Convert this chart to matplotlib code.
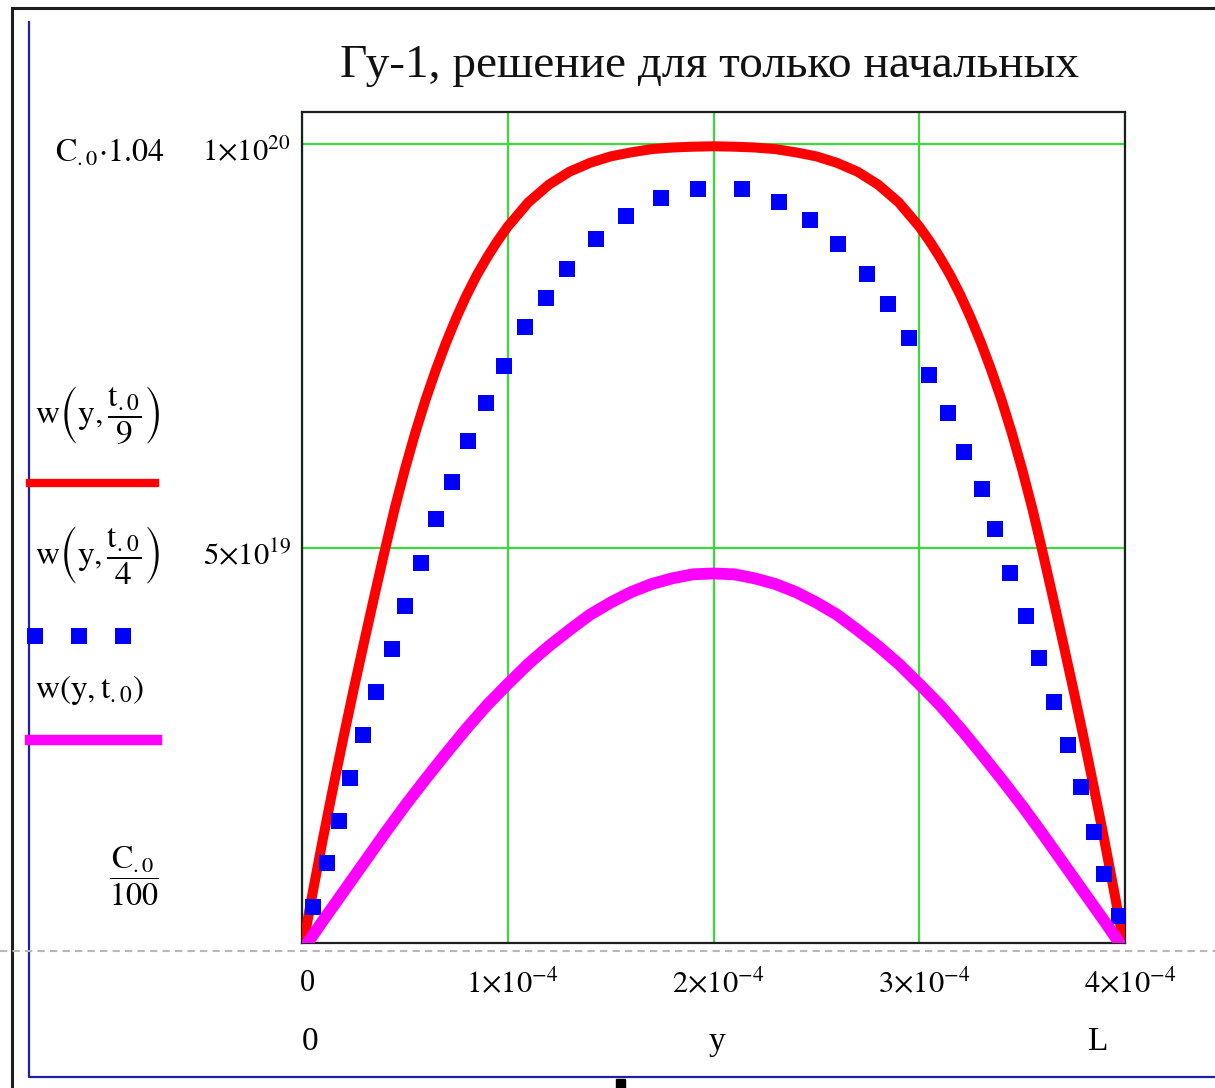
import matplotlib.pyplot as plt
from matplotlib.patches import Rectangle
from matplotlib.transforms import ScaledTranslation

plt.rcParams['font.family'] = ['Liberation Serif', 'DejaVu Serif']
plt.rcParams['mathtext.fontset'] = 'stix'

W, H = 1215, 1088          # размер листа, пиксели
C0 = 1e20                  # начальная концентрация
L = 4e-4                   # толщина слоя
YS, WS = 1e-4, 1e19        # масштабы для таблиц ниже

# w(y, t0/9): y в 1e-4, w в 1e19
y_t9 = [0.0, 0.05, 0.10, 0.15, 0.20, 0.25, 0.30, 0.35, 0.40, 0.45,
        0.50, 0.55, 0.60, 0.65, 0.70, 0.75, 0.80, 0.85, 0.90, 0.95,
        1.00, 1.10, 1.20, 1.30, 1.40, 1.50, 1.60, 1.70, 1.80, 1.90,
        2.00, 2.10, 2.20, 2.30, 2.40, 2.50, 2.60, 2.70, 2.80, 2.90,
        3.00, 3.05, 3.10, 3.15, 3.20, 3.25, 3.30, 3.35, 3.40, 3.45,
        3.50, 3.55, 3.60, 3.65, 3.70, 3.75, 3.80, 3.85, 3.90, 3.95, 4.0]
w_t9 = [0.0, 0.70, 1.37, 2.01, 2.63, 3.23, 3.81, 4.38, 4.94, 5.48,
        5.97, 6.42, 6.83, 7.20, 7.54, 7.85, 8.13, 8.38, 8.60, 8.80,
        8.98, 9.28, 9.50, 9.66, 9.77, 9.85, 9.90, 9.94, 9.96, 9.97,
        9.975, 9.97, 9.96, 9.94, 9.90, 9.85, 9.77, 9.66, 9.50, 9.28,
        8.98, 8.80, 8.60, 8.38, 8.13, 7.85, 7.54, 7.20, 6.83, 6.42,
        5.97, 5.48, 4.94, 4.38, 3.81, 3.23, 2.63, 2.01, 1.37, 0.70, 0.0]

# w(y, t0/4) - точками
y_t4 = [0.054, 0.122, 0.180, 0.234, 0.297, 0.360, 0.438, 0.501, 0.579, 0.652,
        0.730, 0.808, 0.896, 0.983, 1.086, 1.188, 1.290, 1.427, 1.577, 1.743,
        1.923, 2.137, 2.317, 2.468, 2.605, 2.746, 2.848, 2.950, 3.048, 3.140,
        3.218, 3.306, 3.369, 3.442, 3.520, 3.583, 3.656, 3.724, 3.788, 3.851,
        3.900, 3.973]
w_t4 = [0.55, 1.09, 1.61, 2.15, 2.68, 3.21, 3.75, 4.28, 4.81, 5.36,
        5.81, 6.32, 6.79, 7.25, 7.73, 8.10, 8.45, 8.83, 9.11, 9.33,
        9.45, 9.45, 9.29, 9.06, 8.77, 8.39, 8.02, 7.60, 7.14, 6.67,
        6.18, 5.73, 5.23, 4.69, 4.15, 3.63, 3.09, 2.56, 2.03, 1.48,
        0.96, 0.43]

# w(y, t0)
y_t1 = [0.0, 0.1, 0.2, 0.3, 0.4, 0.5, 0.6, 0.7, 0.8, 0.9, 1.0, 1.1, 1.2, 1.3,
        1.4, 1.5, 1.6, 1.7, 1.8, 1.9, 2.0, 2.1, 2.2, 2.3, 2.4, 2.5, 2.6, 2.7,
        2.8, 2.9, 3.0, 3.1, 3.2, 3.3, 3.4, 3.5, 3.6, 3.7, 3.8, 3.9, 4.0]
w_t1 = [0.0, 0.37, 0.73, 1.09, 1.45, 1.80, 2.13, 2.45, 2.76, 3.05, 3.31, 3.56,
        3.78, 3.98, 4.17, 4.32, 4.45, 4.55, 4.62, 4.67, 4.68, 4.67, 4.62, 4.55,
        4.45, 4.32, 4.17, 3.98, 3.78, 3.56, 3.31, 3.05, 2.76, 2.45, 2.13, 1.80,
        1.45, 1.09, 0.73, 0.37, 0.0]

x_ticks = [0, 1e-4, 2e-4, 3e-4, 4e-4]
x_labels = ['0', r'$1{\times}10^{-4}$', r'$2{\times}10^{-4}$',
            r'$3{\times}10^{-4}$', r'$4{\times}10^{-4}$']
y_ticks = [5e19, 1e20]
y_labels = [r'$5{\times}10^{19}$', r'$1{\times}10^{20}$']

fig = plt.figure(figsize=(W / 100, H / 100), dpi=100)

# фон с рамками и подписями (координаты в пикселях)
bg = fig.add_axes([0, 0, 1, 1])
bg.set_xlim(0, W)
bg.set_ylim(H, 0)
bg.axis('off')
bg.plot([12, 12, W], [H, 8, 8], color='#1e1e1e', lw=2.2, solid_joinstyle='miter')
bg.plot([28.5, 28.5, W], [22, 1077, 1077], color='#2020a0', lw=1.6)
bg.plot([0, W], [951, 951], color='#b8b8b8', lw=1.5, linestyle=(0, (3.5, 2.5)))
bg.add_patch(Rectangle((616, 1079), 9, 9, color='black'))

bg.text(710, 66, 'Гу-1, решение для только начальных', fontsize=34,
        ha='center', va='center', color='#111111')

bg.text(55, 162, r'$\mathrm{C}_{.0}{\cdot}1.04$', fontsize=23, ha='left', va='baseline')
bg.text(134, 876, r'$\dfrac{\mathrm{C}_{.0}}{100}$', fontsize=23, ha='center', va='center')

bg.text(35, 415, r'$\mathrm{w}\left(\mathrm{y},\dfrac{\mathrm{t}_{.0}}{9}\right)$',
        fontsize=24, ha='left', va='center')
bg.plot([30, 155], [483, 483], color='#ff0000', lw=6)
bg.text(35, 555, r'$\mathrm{w}\left(\mathrm{y},\dfrac{\mathrm{t}_{.0}}{4}\right)$',
        fontsize=24, ha='left', va='center')
bg.plot([35, 79, 123], [636, 636, 636], 's', color='#0000ff', ms=11, mew=0)
bg.text(35, 690, r'$\mathrm{w}\left(\mathrm{y},\mathrm{t}_{.0}\right)$',
        fontsize=24, ha='left', va='center')
bg.plot([30, 157], [740, 740], color='#ff00ff', lw=7.5)

bg.text(310, 1050, '0', fontsize=24, ha='center', va='baseline')
bg.text(717, 1050, 'y', fontsize=24, ha='center', va='baseline')
bg.text(1098, 1050, 'L', fontsize=24, ha='center', va='baseline')

# сам график
ax = fig.add_axes([302 / W, 1 - 943 / H, (1125 - 302) / W, (943 - 112) / H])
ax.set_zorder(2)
ax.plot([v * YS for v in y_t9], [v * WS for v in w_t9], color='#ff0000', lw=7.2,
        solid_joinstyle='round', zorder=3)
ax.plot([v * YS for v in y_t4], [v * WS for v in w_t4], 's', color='#0000ff',
        ms=11.5, mew=0, zorder=4)
ax.plot([v * YS for v in y_t1], [v * WS for v in w_t1], color='#ff00ff', lw=8.5,
        solid_joinstyle='round', zorder=5)

ax.set_xlim(0, L)
ax.set_ylim(C0 / 100, C0 * 1.04)
ax.set_xticks(x_ticks)
ax.set_xticklabels(x_labels, fontsize=22)
ax.set_yticks(y_ticks)
ax.set_yticklabels(y_labels, fontsize=22)
ax.tick_params(length=0)
ax.tick_params(axis='x', pad=19)
ax.tick_params(axis='y', pad=8)
for lab in ax.get_xticklabels():
    lab.set_transform(lab.get_transform() + ScaledTranslation(0.05, 0, fig.dpi_scale_trans))
for lab in ax.get_yticklabels():
    lab.set_transform(lab.get_transform() + ScaledTranslation(0, -0.05, fig.dpi_scale_trans))
ax.grid(True, color='#3cd83c', lw=1.6)
ax.set_axisbelow(True)
for s in ax.spines.values():
    s.set_color('#1e1e1e')
    s.set_linewidth(1.6)

fig.savefig('out.png', dpi=100)
